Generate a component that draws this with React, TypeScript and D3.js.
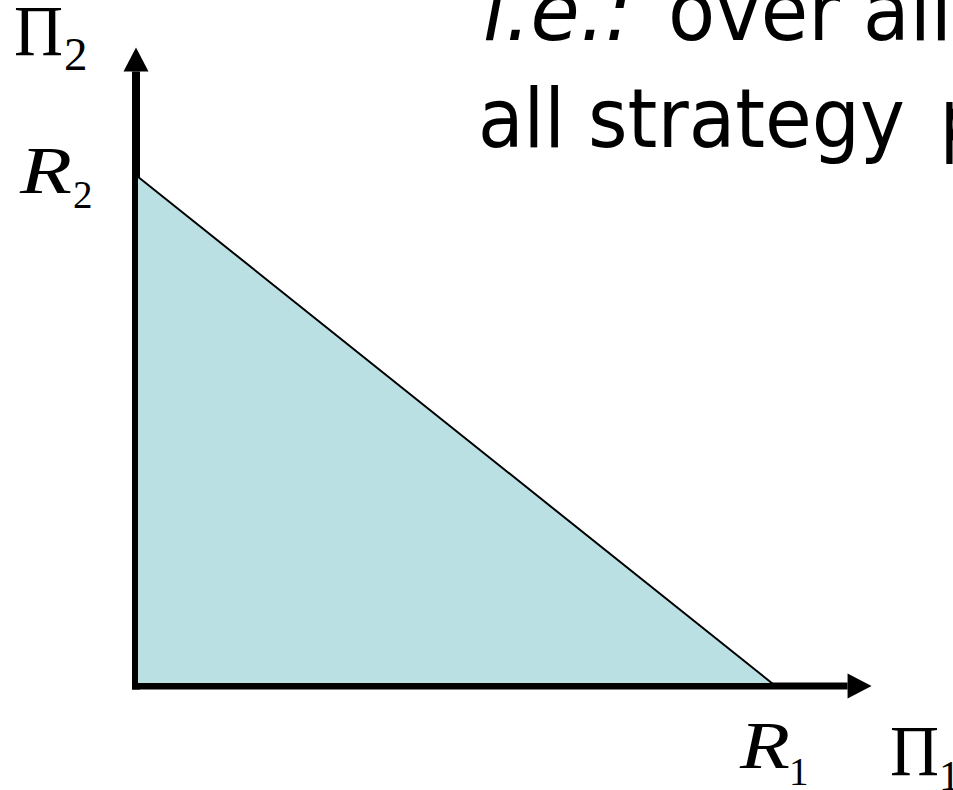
import React from "react";
import * as d3 from "d3";

// Feasible payoff region (utility possibility set): vertices in payoff units
const regionPi1 = [0, 0, 1];
const regionPi2 = [0, 1, 0];
// axis extents (payoff units)
const axisMaxPi1 = [1.155];
const axisMaxPi2 = [1.253];
// labels
const vertexLabels = ["R", "R"];
const vertexSubs = ["2", "1"];
const axisLabels = ["\u03A0", "\u03A0"];
const axisSubs = ["2", "1"];
// caption words
const line1Words = ["i.e.:", "over", "all"];
const line2Words = ["all", "strategy", "p"];

const W = 953;
const H = 790;

export default function App() {
  const x = d3.scaleLinear().domain([0, 1]).range([137, 773]);
  const y = d3.scaleLinear().domain([0, 1]).range([684, 176]);

  const pts: [number, number][] = regionPi1.map((v, i) => [x(v), y(regionPi2[i])]);
  const area = d3.line()(pts) + "Z";

  const ax0 = x(0) - 1;
  const ay0 = y(0) + 2;
  const xEnd = x(axisMaxPi1[0]);
  const yEnd = y(axisMaxPi2[0]);
  const headL = 24;
  const headW = 12.5;

  const sans = "'DejaVu Sans', Verdana, sans-serif";
  const serif = "'Liberation Serif', 'Times New Roman', serif";
  const fs = 82;

  return (
    <svg
      width={W}
      height={H}
      style={{ position: "absolute", left: 0, top: 0, background: "#fff" }}
    >
      {/* axes */}
      <line x1={ax0} y1={ay0 + 3.5} x2={ax0} y2={yEnd + headL} stroke="#000" strokeWidth={8} />
      <polygon
        points={`${ax0},${yEnd} ${ax0 - headW},${yEnd + headL} ${ax0 + headW},${yEnd + headL}`}
        fill="#000"
      />
      <line x1={ax0 - 4} y1={ay0} x2={xEnd - headL} y2={ay0} stroke="#000" strokeWidth={7} />
      <polygon
        points={`${xEnd},${ay0} ${xEnd - headL},${ay0 - headW} ${xEnd - headL},${ay0 + headW}`}
        fill="#000"
      />

      {/* feasible region */}
      <path d={area} fill="#BAE0E3" stroke="#000" strokeWidth={2} strokeLinejoin="miter" />

      {/* axis labels */}
      <text x={14} y={55} fontFamily={serif} fontSize={72} textLength={49} lengthAdjust="spacingAndGlyphs">
        {axisLabels[0]}
      </text>
      <text x={64} y={70} fontFamily={serif} fontSize={47}>
        {axisSubs[0]}
      </text>
      <text x={890} y={775} fontFamily={serif} fontSize={72} textLength={49} lengthAdjust="spacingAndGlyphs">
        {axisLabels[1]}
      </text>
      <text x={939} y={790} fontFamily={serif} fontSize={42}>
        {axisSubs[1]}
      </text>

      {/* vertex labels */}
      <text x={20} y={193} fontFamily={serif} fontStyle="italic" fontSize={68} textLength={52} lengthAdjust="spacingAndGlyphs">
        {vertexLabels[0]}
      </text>
      <text x={73} y={208} fontFamily={serif} fontSize={39}>
        {vertexSubs[0]}
      </text>
      <text x={740} y={768} fontFamily={serif} fontStyle="italic" fontSize={68} textLength={50} lengthAdjust="spacingAndGlyphs">
        {vertexLabels[1]}
      </text>
      <text x={789} y={785} fontFamily={serif} fontSize={39}>
        {vertexSubs[1]}
      </text>

      {/* caption */}
      <text x={483} y={40} fontFamily={sans} fontStyle="italic" fontSize={fs} textLength={149} lengthAdjust="spacingAndGlyphs">
        {line1Words[0]}
      </text>
      <text x={668} y={40} fontFamily={sans} fontSize={fs} textLength={172} lengthAdjust="spacingAndGlyphs">
        {line1Words[1]}
      </text>
      <text x={863} y={40} fontFamily={sans} fontSize={fs} textLength={89} lengthAdjust="spacingAndGlyphs">
        {line1Words[2]}
      </text>
      <text x={478} y={147} fontFamily={sans} fontSize={fs} textLength={87} lengthAdjust="spacingAndGlyphs">
        {line2Words[0]}
      </text>
      <text x={588} y={147} fontFamily={sans} fontSize={fs} textLength={317} lengthAdjust="spacingAndGlyphs">
        {line2Words[1]}
      </text>
      <text x={940} y={147} fontFamily={sans} fontSize={fs} textLength={44} lengthAdjust="spacingAndGlyphs">
        {line2Words[2]}
      </text>
    </svg>
  );
}
